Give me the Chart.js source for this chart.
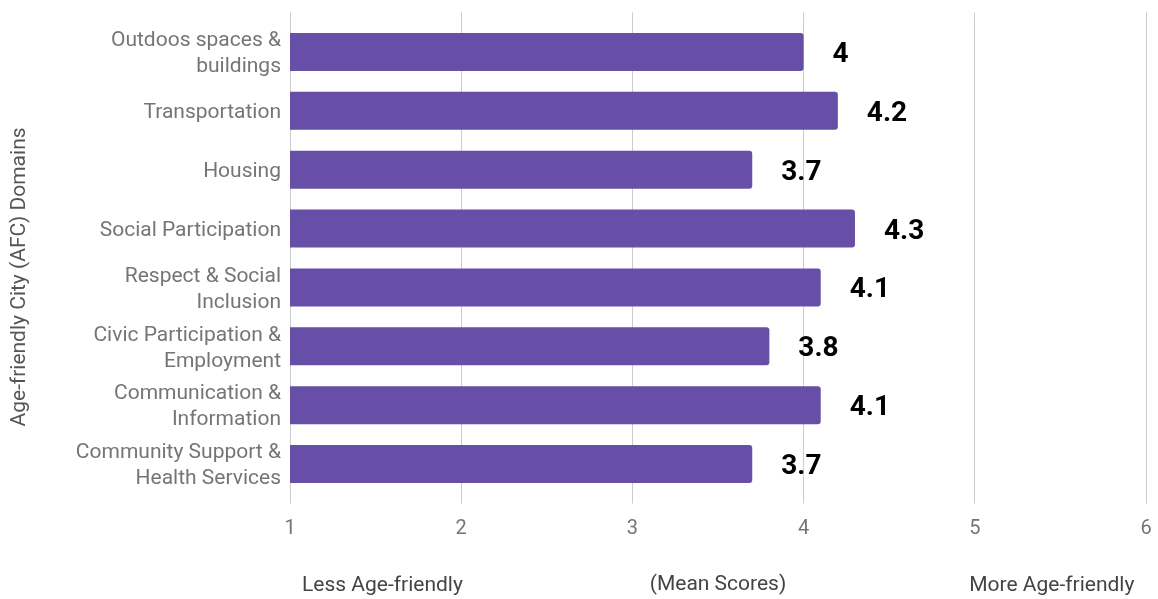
<!DOCTYPE html>
<html>
<head>
<meta charset="utf-8">
<script src="https://cdn.jsdelivr.net/npm/chart.js@4"></script>
<style>
  html, body { margin: 0; padding: 0; background: #fff; }
  #wrap { width: 1158px; height: 599px; }
</style>
</head>
<body>
<div id="wrap"><canvas id="mycanvas1"></canvas></div>
<script>
// domains (y categories) and mean scores
var domains = [
	["Outdoos spaces &", "buildings"],
	"Transportation",
	"Housing",
	"Social Participation",
	["Respect & Social", "Inclusion"],
	["Civic Participation &", "Employment"],
	["Communication &", "Information"],
	["Community Support &", "Health Services"]
];
var meanScores = [4, 4.2, 3.7, 4.3, 4.1, 3.8, 4.1, 3.7];
var xTicks = [1, 2, 3, 4, 5, 6];
var yTitle = "Age-friendly City (AFC) Domains";
var xTitle = "(Mean Scores)";
var xLeftNote = "Less Age-friendly";
var xRightNote = "More Age-friendly";

var FONT = "Roboto, 'Noto Sans', sans-serif";
var GRID = "#cccccc";

// value labels next to bars, gridline stubs above the plot, extra axis notes
var extras = {
	id: "extras",
	beforeDatasetsDraw: function(chart) {
		var ctx = chart.ctx;
		var x = chart.scales.x;
		var top = chart.chartArea.top;
		ctx.save();
		ctx.strokeStyle = GRID;
		ctx.lineWidth = 1;
		xTicks.forEach(function(v) {
			var px = Math.round(x.getPixelForValue(v) - 0.5) + 0.5;
			ctx.beginPath();
			ctx.moveTo(px, top - 10);
			ctx.lineTo(px, top);
			ctx.stroke();
		});
		ctx.restore();
	},
	afterDatasetsDraw: function(chart) {
		var ctx = chart.ctx;
		var meta = chart.getDatasetMeta(0);
		ctx.save();
		ctx.font = "bold 28px " + FONT;
		ctx.fillStyle = "#000";
		ctx.textAlign = "left";
		ctx.textBaseline = "middle";
		meta.data.forEach(function(bar, i) {
			ctx.fillText(String(meanScores[i]), bar.x + 29, bar.y + 3);
		});

		var x = chart.scales.x;
		ctx.font = "21px " + FONT;
		ctx.fillStyle = "#444";
		ctx.textAlign = "center";
		ctx.fillText(xLeftNote, x.getPixelForValue(1.54), 586);
		ctx.fillText(xRightNote, x.getPixelForValue(5.45), 586);

		ctx.translate(20, 277);
		ctx.rotate(-Math.PI / 2);
		ctx.fillStyle = "#555";
		ctx.fillText(yTitle, 0, 0);
		ctx.restore();
	}
};

var chartdata = {
	labels: domains,
	datasets: [
		{
			label: "Mean Score",
			data: meanScores,
			backgroundColor: "#674ea7",
			borderRadius: 3,
			borderSkipped: "start",
			barPercentage: 0.646,
			categoryPercentage: 1
		}
	]
};

var ctx = document.getElementById("mycanvas1");

var BarGraph = new Chart(ctx, {
	type: "bar",
	data: chartdata,
	plugins: [extras],
	options: {
		indexAxis: "y",
		responsive: true,
		maintainAspectRatio: false,
		animation: false,
		layout: { padding: { top: 22.5, right: 12, bottom: 0, left: 0 } },
		plugins: {
			legend: { display: false },
			tooltip: { enabled: false }
		},
		scales: {
			x: {
				type: "linear",
				min: 1,
				max: 6,
				afterBuildTicks: function(scale) {
					scale.ticks = xTicks.map(function(v) { return { value: v }; });
				},
				afterFit: function(scale) {
					scale.height = 105.5;
					scale.paddingLeft = 0;
					scale.paddingRight = 0;
				},
				grid: { color: GRID, tickLength: 10, drawTicks: true },
				border: { display: false },
				ticks: {
					color: "#757575",
					font: { family: FONT, size: 20 },
					padding: 13
				},
				title: {
					display: true,
					text: xTitle,
					color: "#444",
					font: { family: FONT, size: 21 },
					padding: { top: 0, bottom: 2 }
				}
			},
			y: {
				afterFit: function(scale) {
					scale.width = 290;
					scale.paddingTop = 0;
					scale.paddingBottom = 0;
				},
				grid: { display: false, drawTicks: false },
				border: { display: false },
				ticks: {
					color: "#757575",
					font: { family: FONT, size: 21, lineHeight: 1.24 },
					padding: 9,
					labelOffset: 2
				}
			}
		}
	}
});
</script>
</body>
</html>
